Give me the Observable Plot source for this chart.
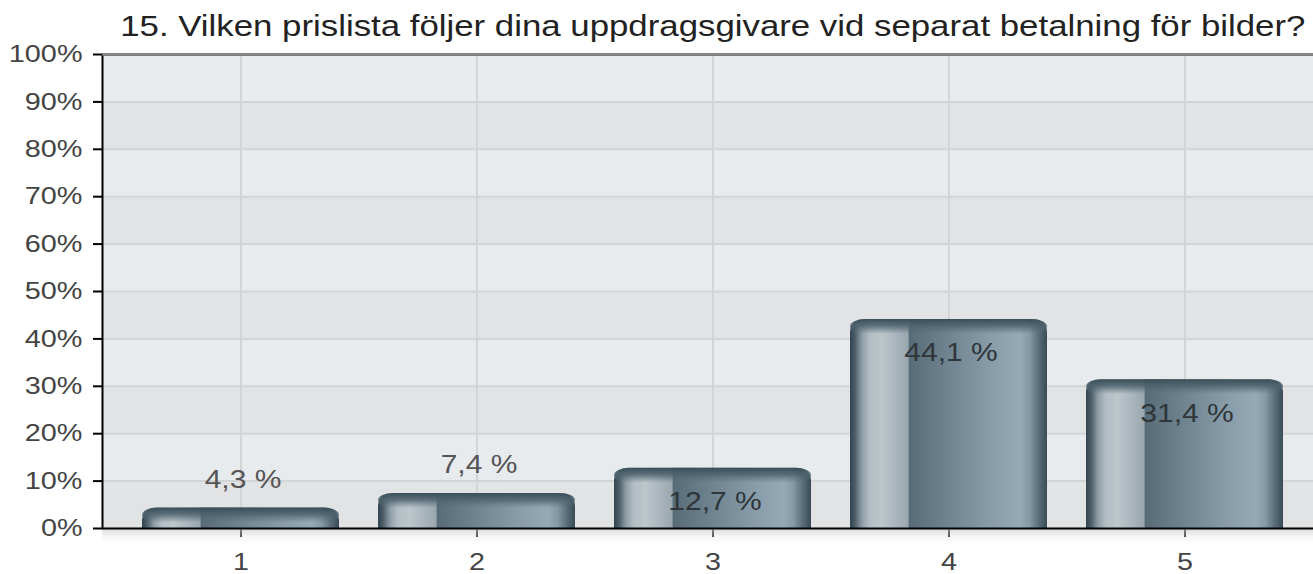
<!DOCTYPE html>
<html>
<head>
<meta charset="utf-8">
<script src="https://cdn.jsdelivr.net/npm/d3@7"></script>
<script src="https://cdn.jsdelivr.net/npm/@observablehq/plot@0.6"></script>
<style>
  html, body { margin: 0; padding: 0; background: white; overflow: hidden; }
  #title { height: 30px; overflow: visible; box-sizing: border-box; padding-top: 12px; padding-left: 112px; text-align: center;
           font-family: "Liberation Sans", Arial, sans-serif; font-size: 29px; line-height: 29px; color: #222; white-space: nowrap;
           position: relative; z-index: 1; }
  #title span { display: inline-block; transform: scaleX(1.2); transform-origin: center; }
  svg { overflow: visible; }
  svg g[aria-label^="y-axis"] line, svg g[aria-label^="x-axis"] line,
  svg g[aria-label^="y-axis"] path, svg g[aria-label^="x-axis"] path { stroke-width: 2; }
</style>
</head>
<body>
<div id="title"><span>15. Vilken prislista följer dina uppdragsgivare vid separat betalning för bilder?</span></div>
<script>
const title = "15. Vilken prislista följer dina uppdragsgivare vid separat betalning för bilder?";
const categories = ["1", "2", "3", "4", "5"];
const values = [4.3, 7.4, 12.7, 44.1, 31.4];
const valueLabels = ["4,3 %", "7,4 %", "12,7 %", "44,1 %", "31,4 %"];
const yTicks = [0, 10, 20, 30, 40, 50, 60, 70, 80, 90, 100];
const yTickLabels = ["0%", "10%", "20%", "30%", "40%", "50%", "60%", "70%", "80%", "90%", "100%"];

const data = categories.map((c, i) => ({cat: c, value: values[i], label: valueLabels[i]}));
const bands = yTicks.filter((t, i) => i % 2 === 1).map(t => ({y1: t, y2: t + 10}));
const yMax = yTicks[yTicks.length - 1];

const chart = Plot.plot({
  width: 1313,
  height: 544,
  marginTop: 24,
  marginBottom: 46,
  marginLeft: 102,
  marginRight: -3,
  style: {fontFamily: "Liberation Sans, Arial, sans-serif", fontSize: "24px", color: "black", background: "transparent"},
  x: {type: "band", domain: categories, range: [120.6, 1304.4], paddingInner: 0.164, paddingOuter: 0.082,
      tickSize: 9, tickPadding: 15, label: null},
  y: {domain: [0, yMax], ticks: yTicks, tickFormat: d => yTickLabels[yTicks.indexOf(d)],
      tickSize: 9, tickPadding: 11, label: null},
  marks: [
    Plot.frame({fill: "#e2e3e5"}),
    Plot.rect(bands, {y1: "y1", y2: "y2", fill: "#e8ebee"}),
    Plot.ruleY(yTicks, {stroke: "#d3d4d6", strokeWidth: 2}),
    Plot.ruleX(categories, {stroke: "#d3d4d6", strokeWidth: 2}),
    Plot.rect([0], {y1: 0, y2: 0, insetBottom: -18, fill: "url(#shadowGrad)"}),
    Plot.barY(data, {x: "cat", y: "value", fill: "url(#barGrad)", rx: 15, ry: 13, insetBottom: -16, clip: true}),
    Plot.barY(data, {x: "cat", y1: "value", y2: "value", fill: "url(#topGrad)", rx: 15, ry: 13, insetBottom: -15}),
    Plot.text(data.filter(d => d.value < 10), {x: "cat", y: "value", text: "label", dy: -28, dx: 2,
      fill: "#555", fontSize: 25}),
    Plot.text(data.filter(d => d.value >= 10), {x: "cat", y: "value", text: "label", dy: 34, dx: 2,
      fill: "#2f363a", fontSize: 25}),
    Plot.frame({stroke: "black", strokeWidth: 2}),
    Plot.ruleY([yMax], {stroke: "#8c8c8c", strokeWidth: 2})
  ]
});

const ns = "http://www.w3.org/2000/svg";
const defs = document.createElementNS(ns, "defs");
function grad(id, vertical, stops) {
  const g = document.createElementNS(ns, "linearGradient");
  g.setAttribute("id", id);
  g.setAttribute("x1", "0"); g.setAttribute("y1", "0");
  g.setAttribute("x2", vertical ? "0" : "1"); g.setAttribute("y2", vertical ? "1" : "0");
  for (const [o, c, a] of stops) {
    const s = document.createElementNS(ns, "stop");
    s.setAttribute("offset", o);
    s.setAttribute("stop-color", c);
    s.setAttribute("stop-opacity", a == null ? 1 : a);
    g.appendChild(s);
  }
  defs.appendChild(g);
}
grad("barGrad", false, [
  ["0", "#33454f"], ["0.025", "#4a5d68"], ["0.06", "#8d9ca4"], ["0.10", "#b3bec4"],
  ["0.16", "#bcc6cb"], ["0.24", "#a8b4bb"], ["0.295", "#9aa7af"], ["0.30", "#586c78"],
  ["0.5", "#6f8490"], ["0.7", "#869ba7"], ["0.86", "#95aab6"], ["0.91", "#859aa6"],
  ["0.955", "#5b707c"], ["1", "#384b56"]
]);
grad("topGrad", true, [
  ["0", "#3a4e59", 1], ["0.45", "#4d626e", 0.85], ["1", "#566b77", 0]
]);
grad("shadowGrad", true, [
  ["0", "#c8c8c8", 0.7], ["1", "#ffffff", 0]
]);
const svg = chart.tagName.toLowerCase() === "svg" ? chart : chart.querySelector("svg");
svg.insertBefore(defs, svg.firstChild);
document.body.appendChild(chart);

// axis label colour and the horizontally wide lettering of the original
svg.querySelectorAll("g[aria-label^='y-axis'] text, g[aria-label^='x-axis'] text").forEach(t => t.setAttribute("fill", "#444"));
svg.querySelectorAll("g[aria-label^='y-axis'], g[aria-label^='x-axis']").forEach(g => { if (g.querySelector("text")) g.setAttribute("fill", "#444"); });
svg.querySelectorAll("text").forEach(t => {
  const w = t.getComputedTextLength();
  if (w > 0) { t.setAttribute("textLength", (w * 1.2).toFixed(1)); t.setAttribute("lengthAdjust", "spacingAndGlyphs"); }
});
</script>
</body>
</html>
